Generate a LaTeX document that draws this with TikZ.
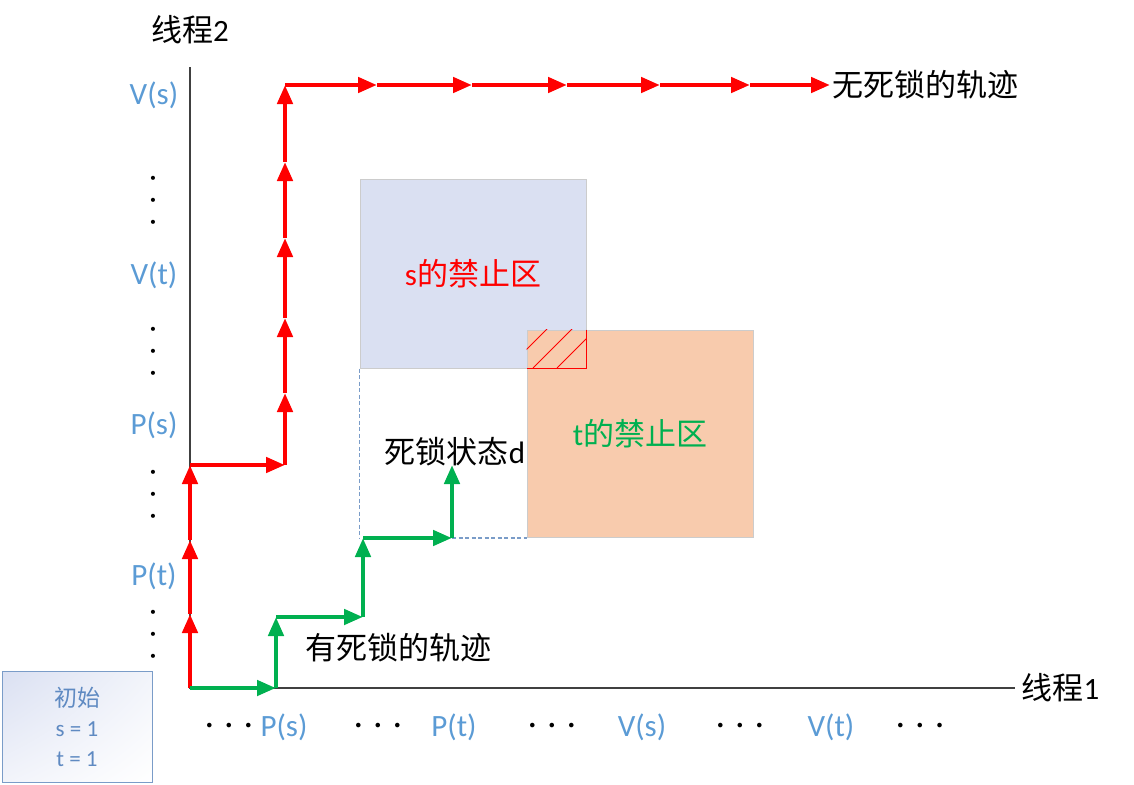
\documentclass[tikz,border=0pt]{standalone}
\usepackage{fontspec}
\setmainfont{Carlito}
\newfontfamily\cjk{Noto Sans CJK SC}
\usetikzlibrary{arrows.meta,shadings}
\definecolor{tickblue}{HTML}{5B9BD5}
\definecolor{regionblue}{HTML}{DAE0F2}
\definecolor{regionorange}{HTML}{F8CBAD}
\definecolor{okgreen}{HTML}{00B050}
\definecolor{boxblue}{HTML}{7A9CC8}
\definecolor{boxtext}{HTML}{5F8AC2}

\begin{document}
\begin{tikzpicture}[x=1pt,y=-1pt,
    tick/.style={text=tickblue,font=\fontsize{31}{33}\selectfont},
    label/.style={font=\fontsize{31}{33}\selectfont},
    vdots/.style={align=center,inner sep=0,font=\fontsize{22}{22}\bfseries},
    hdots/.style={inner sep=0,font=\fontsize{32}{30}\selectfont},
    axis/.style={draw=black!75,line width=1.3pt},
    trail/.style={line width=4.5pt,-{Triangle[length=19pt,width=15pt]}},
    region/.style={draw=black!20,line width=1pt,inner sep=0},
    guide/.style={draw=boxblue,line width=1.2pt,dash pattern=on 4pt off 2.5pt}]

    \useasboundingbox (0,0) rectangle (1134,784);

    % forbidden regions
    \node[region,fill=regionblue,text=red,label,minimum width=226pt,minimum height=189pt] at (473,273.5) (sregion) {s{\cjk 的禁止区}};
    \node[region,fill=regionorange,text=okgreen,label,minimum width=226pt,minimum height=207pt] at (640,433.5) (tregion) {t{\cjk 的禁止区}};

    \begin{scope}
        \clip (tregion.north west) rectangle (sregion.south east);
        \foreach \s in {508,533,557}
            \draw[red,line width=0.8pt] (\s,368) -- ++(40,-40);
    \end{scope}
    \draw[red,line width=1.3pt] (sregion.south east |- tregion.north) -- (sregion.south east) -- (tregion.west |- sregion.south);

    % axes
    \coordinate (origin) at (190,688);
    \coordinate (ytop) at (190,67);
    \coordinate (xend) at (1015,688);
    \draw[axis] (ytop) -- (origin) -- (xend);
    \node[label] at (190,30) (yname) {{\cjk 线程}2};
    \node[label,anchor=west] at (1018,688) (xname) {{\cjk 线程}1};

    \node[tick] at (154,95) (vs) {V(s)};
    \node[tick] at (154,275) (vt) {V(t)};
    \node[tick] at (154,425) (ps) {P(s)};
    \node[tick] at (154,576) (pt) {P(t)};
    \node[vdots] at (153,202) (dotsa) {·\\·\\·};
    \node[vdots] at (153,353) (dotsb) {·\\·\\·};
    \node[vdots] at (153,496) (dotsc) {·\\·\\·};
    \node[vdots] at (153,636) (dotsd) {·\\·\\·};

    \node[tick] at (284,727) (xps) {P(s)};
    \node[tick] at (454,727) (xpt) {P(t)};
    \node[tick] at (642,727) (xvs) {V(s)};
    \node[tick] at (831,727) (xvt) {V(t)};
    \node[hdots] at (229,729) (hdotsa) {·\hspace{11.5pt}·\hspace{11.5pt}·};
    \node[hdots] at (378,729) (hdotsb) {·\hspace{11.5pt}·\hspace{11.5pt}·};
    \node[hdots] at (552,729) (hdotsc) {·\hspace{11.5pt}·\hspace{11.5pt}·};
    \node[hdots] at (740,729) (hdotsd) {·\hspace{11.5pt}·\hspace{11.5pt}·};
    \node[hdots] at (920,729) (hdotse) {·\hspace{11.5pt}·\hspace{11.5pt}·};

    % start state
    \node[draw=boxblue,line width=1pt,upper left=regionblue,upper right=regionblue!35,lower left=regionblue!35,lower right=white,
          minimum width=150pt,minimum height=111pt,align=center,text=boxtext,font=\fontsize{23}{30}\selectfont] at (77,726.5) (start) {{\cjk 初始}\\s = 1\\t = 1};

    % trail without deadlock
    \coordinate (r1) at (190,614);
    \coordinate (r2) at (190,540);
    \coordinate (r3) at (190,465);
    \coordinate (r4) at (285,465);
    \coordinate (r5) at (285,393);
    \coordinate (r6) at (285,318);
    \coordinate (r7) at (285,238);
    \coordinate (r8) at (285,162);
    \coordinate (r9) at (285,85);
    \coordinate (r10) at (377,85);
    \coordinate (r11) at (472,85);
    \coordinate (r12) at (567,85);
    \coordinate (r13) at (660,85);
    \coordinate (r14) at (750,85);
    \coordinate (r15) at (830,85);

    \path[trail,red] (origin) edge (r1);
    \path[trail,red] (r1) edge (r2);
    \path[trail,red] (r2) edge (r3);
    \path[trail,red] (r3) edge (r4);
    \path[trail,red] (r4) edge (r5);
    \path[trail,red] (r5) edge (r6);
    \path[trail,red] (r6) edge (r7);
    \path[trail,red] (r7) edge (r8);
    \path[trail,red] (r8) edge (r9);
    \path[trail,red] (r9) edge (r10);
    \path[trail,red] (r10) edge (r11);
    \path[trail,red] (r11) edge (r12);
    \path[trail,red] (r12) edge (r13);
    \path[trail,red] (r13) edge (r14);
    \path[trail,red] (r14) edge (r15);
    \node[label,anchor=west,inner sep=2pt] at (r15) (freetrail) {\cjk 无死锁的轨迹};

    % trail into deadlock
    \coordinate (g1) at (276,688);
    \coordinate (g2) at (276,617);
    \coordinate (g3) at (363,617);
    \coordinate (g4) at (363,538);
    \coordinate (g5) at (452,538);
    \coordinate (g6) at (452,465);

    \draw[guide] (sregion.south west) -- (sregion.south west |- g4);
    \draw[guide] (g5) -- (g5 -| tregion.west);

    \path[trail,okgreen] (origin) edge (g1);
    \path[trail,okgreen] (g1) edge (g2);
    \path[trail,okgreen] (g2) edge (g3);
    \path[trail,okgreen] (g3) edge (g4);
    \path[trail,okgreen] (g4) edge (g5);
    \path[trail,okgreen] (g5) edge (g6);

    \node[label] at (455,452) (deadstate) {{\cjk 死锁状态}d};
    \node[label] at (398,648) (deadtrail) {\cjk 有死锁的轨迹};
\end{tikzpicture}
\end{document}
